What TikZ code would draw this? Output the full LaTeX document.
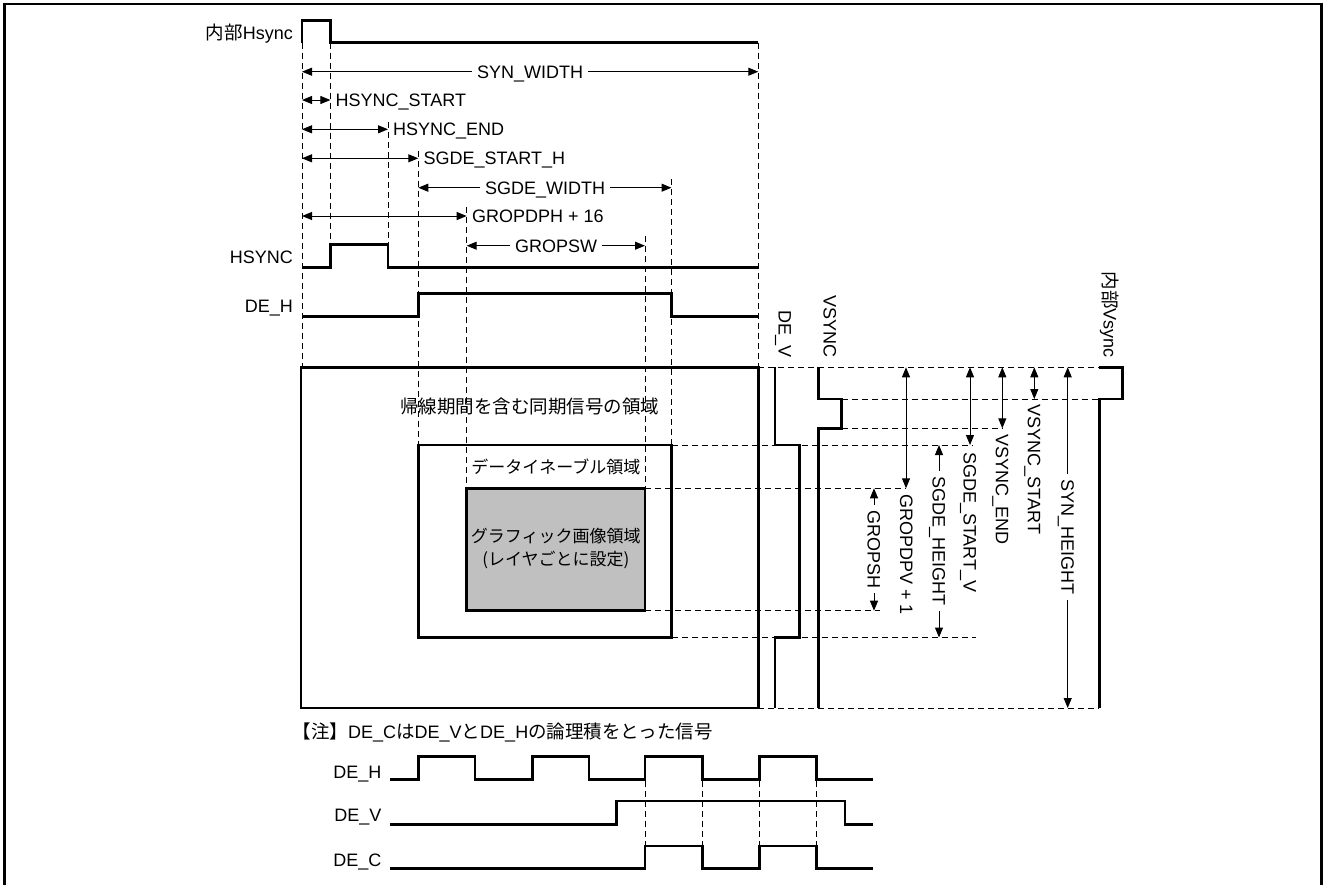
\documentclass[tikz,border=0pt]{standalone}
\usepackage{fontspec}
\setmainfont{Liberation Sans}
\newfontfamily\jpfont{Noto Sans CJK JP}
\usetikzlibrary{arrows.meta}
\newcommand\LSz{\fontsize{18}{21}\selectfont}
\newcommand\JSz{\jpfont\fontsize{18.5}{23.3}\selectfont}
\newcommand\JSs{\jpfont\fontsize{17}{23.3}\selectfont}
\definecolor{gfill}{RGB}{192,192,192}
\begin{document}
\begin{tikzpicture}[x=1pt,y=-1pt,
  sig/.style={line width=2.5pt, line join=miter},
  frm/.style={line width=2.6pt},
  dsh/.style={line width=0.9pt, dash pattern=on 6pt off 4pt},
  dimarr/.style={line width=1pt, >={Triangle[length=10pt,width=8pt]}, <->},
  lbl/.style={inner sep=0pt, text height=12.9pt, text depth=0pt, font=\LSz},
  onl/.style={lbl, fill=white, inner xsep=5pt},
]
\useasboundingbox (0,0) rectangle (1325,884);
% outer frame
\draw[line width=2.7pt] (4.7,900) -- (4.7,4) -- (1321.5,4) -- (1321.5,900);

% ---------- dashed guide lines ----------
\draw[dsh] (302,42.7) -- (302,367.3);
\draw[dsh] (330.4,42.7) -- (330.4,244.3);
\draw[dsh] (388,122) -- (388,244.3);
\draw[dsh] (418.3,151) -- (418.3,445);
\draw[dsh] (466.7,207) -- (466.7,488.3);
\draw[dsh] (645,236) -- (645,488.3);
\draw[dsh] (671.5,179) -- (671.5,445);
\draw[dsh] (758.3,42.7) -- (758.3,367.3);

\draw[dsh] (758.3,367.3) -- (1099.3,367.3);
\draw[dsh] (841.7,399) -- (1099.3,399);
\draw[dsh] (841.7,428.3) -- (1003,428.3);
\draw[dsh] (671.5,445) -- (972,445);
\draw[dsh] (645,488.3) -- (906,488.3);
\draw[dsh] (645,610.7) -- (880,610.7);
\draw[dsh] (671.5,637.5) -- (976,637.5);
\draw[dsh] (758.3,708) -- (1099.3,708);

\foreach \xx in {645,702.3,759.3,816.7} {\draw[dsh] (\xx,781) -- (\xx,846);}

% ---------- regions ----------
\draw[frm] (301,367.3) rectangle (758.3,708);
\draw[frm] (418.3,445) rectangle (671.5,637.5);
\draw[frm, fill=gfill] (466.7,488.3) rectangle (645,610.7);

% ---------- horizontal signals ----------
\draw[sig] (302,42.7) -- (302,20.7) -- (330.4,20.7) -- (330.4,42.7) -- (758.3,42.7);
\draw[sig] (302,267.3) -- (330.4,267.3) -- (330.4,244.3) -- (388,244.3) -- (388,267.3) -- (758.3,267.3);
\draw[sig] (302,316.3) -- (418.3,316.3) -- (418.3,293.3) -- (671.5,293.3) -- (671.5,316.3) -- (758.3,316.3);

% ---------- vertical signals ----------
\draw[sig] (775,367.3) -- (775,445) -- (799.3,445) -- (799.3,637.5) -- (775,637.5) -- (775,708);
\draw[sig] (818.3,367.3) -- (818.3,399) -- (841.7,399) -- (841.7,428.3) -- (818.3,428.3) -- (818.3,708);
\draw[sig] (1099.3,708) -- (1099.3,399) -- (1122.7,399) -- (1122.7,367.3) -- (1099.3,367.3);

% ---------- bottom signals ----------
\draw[sig] (390,779.5) -- (418.3,779.5) -- (418.3,756.5) -- (475,756.5) -- (475,779.5) -- (532.3,779.5) -- (532.3,756.5) -- (589,756.5) -- (589,779.5) -- (645,779.5) -- (645,756.5) -- (702.3,756.5) -- (702.3,779.5) -- (759.3,779.5) -- (759.3,756.5) -- (816.7,756.5) -- (816.7,779.5) -- (873.3,779.5);
\draw[sig] (390,824.3) -- (616.7,824.3) -- (616.7,801) -- (845,801) -- (845,824.3) -- (873.3,824.3);
\draw[sig] (390,868.3) -- (645,868.3) -- (645,846) -- (702.3,846) -- (702.3,868.3) -- (759.3,868.3) -- (759.3,846) -- (816.7,846) -- (816.7,868.3) -- (873.3,868.3);

% ---------- horizontal dimensions ----------
\draw[dimarr] (302,71.7) -- (758.3,71.7);
\node[onl] (tSynW) at (530,71.7) {SYN\_WIDTH};
\draw[dimarr] (302,100) -- (330.4,100);
\node[lbl, anchor=west] (tHsS) at (335.5,100) {HSYNC\_START};
\draw[dimarr] (302,129.3) -- (388,129.3);
\node[lbl, anchor=west] (tHsE) at (393,129.3) {HSYNC\_END};
\draw[dimarr] (302,158.3) -- (418.3,158.3);
\node[lbl, anchor=west] (tSgS) at (423.5,158.3) {SGDE\_START\_H};
\draw[dimarr] (418.3,187.7) -- (671.5,187.7);
\node[onl] (tSgW) at (545,187.7) {SGDE\_WIDTH};
\draw[dimarr] (302,216) -- (466.7,216);
\node[lbl, anchor=west] (tGrH) at (472,216) {GROPDPH + 16};
\draw[dimarr] (466.7,245.7) -- (645,245.7);
\node[onl] (tGrW) at (556,245.7) {GROPSW};

% ---------- vertical dimensions ----------
\draw[dimarr] (906,367.3) -- (906,488.3);
\node[lbl, rotate=-90, anchor=west] (tGrV) at (906.5,494) {GROPDPV + 1};
\draw[dimarr] (970,367.3) -- (970,445);
\node[lbl, rotate=-90, anchor=west] (tSgV) at (970,452) {SGDE\_START\_V};
\draw[dimarr] (1002.3,367.3) -- (1002.3,428.3);
\node[lbl, rotate=-90, anchor=west] (tVsE) at (1002.3,434.5) {VSYNC\_END};
\draw[dimarr] (1034.3,367.3) -- (1034.3,399);
\node[lbl, rotate=-90, anchor=west] (tVsS) at (1034.3,404.5) {VSYNC\_START};
\draw[dimarr] (1067.7,367.3) -- (1067.7,708);
\node[onl, rotate=-90] (tSynH) at (1067.7,537) {SYN\_HEIGHT};
\draw[dimarr] (939,445) -- (939,637.5);
\node[onl, rotate=-90] (tSgH) at (939,541) {SGDE\_HEIGHT};
\draw[dimarr] (874,488.3) -- (874,610.7);
\node[onl, rotate=-90] (tGrSH) at (874,549) {GROPSH};

% ---------- signal names ----------
\node[lbl, anchor=east] (nInH) at (293,33) {{\JSz 内部}Hsync};
\node[lbl, anchor=east] (nHS) at (293,256.7) {HSYNC};
\node[lbl, anchor=east] (nDEH) at (293,306.3) {DE\_H};
\node[lbl, rotate=-90, anchor=east] (nDEV) at (785,358) {DE\_V};
\node[lbl, rotate=-90, anchor=east] (nVS) at (830,358) {VSYNC};
\node[lbl, rotate=-90, anchor=east] (nInV) at (1110,358) {{\JSz 内部}Vsync};

% ---------- region texts ----------
\node[font=\JSz, inner sep=0pt] (rSync) at (529.5,406.7) {帰線期間を含む同期信号の領域};
\node[font=\JSs, inner sep=0pt] (rDE) at (555.8,466.7) {データイネーブル領域};
\node[font=\JSs, inner sep=0pt, align=center] (rGr) at (555.8,548.3) {グラフィック画像領域\\(レイヤごとに設定)};

% ---------- note ----------
\node[lbl, anchor=west] (note) at (292.5,731.7) {{\JSz 【注】}DE\_C{\JSz は}DE\_V{\JSz と}DE\_H{\JSz の論理積をとった信号}};
\node[lbl, anchor=east] (bDEH) at (381.7,771.7) {DE\_H};
\node[lbl, anchor=east] (bDEV) at (381.7,815) {DE\_V};
\node[lbl, anchor=east] (bDEC) at (381.7,860) {DE\_C};
\end{tikzpicture}
\end{document}
